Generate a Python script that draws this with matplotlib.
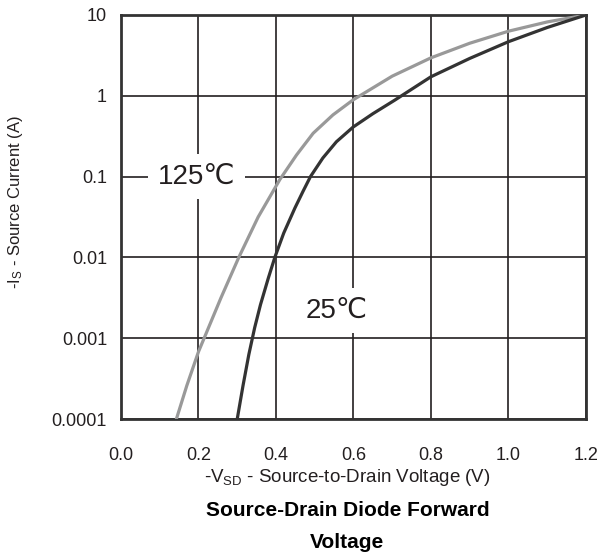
import matplotlib
matplotlib.use("Agg")
import matplotlib.pyplot as plt
from matplotlib.ticker import FixedLocator, FixedFormatter, NullLocator

plt.rcParams["font.family"] = ["Liberation Sans", "DejaVu Sans"]
plt.rcParams["mathtext.fontset"] = "custom"
plt.rcParams["mathtext.rm"] = "Liberation Sans"
plt.rcParams["mathtext.default"] = "regular"

# 125 C curve (gray)
v_125 = [0.143, 0.17, 0.2, 0.258, 0.304, 0.354, 0.41, 0.453, 0.496, 0.547,
         0.599, 0.7, 0.8, 0.9, 1.0, 1.1, 1.2]
i_125 = [1e-4, 2.6e-4, 6.8e-4, 3.16e-3, 0.01, 0.0316, 0.092, 0.185, 0.344,
         0.58, 0.89, 1.75, 2.95, 4.47, 6.3, 8.2, 10]

# 25 C curve (dark)
v_25 = [0.30, 0.315, 0.33, 0.345, 0.36, 0.38, 0.397, 0.42, 0.449, 0.47,
        0.489, 0.521, 0.556, 0.599, 0.65, 0.706, 0.8, 0.9, 1.0, 1.1, 1.2]
i_25 = [1e-4, 2.6e-4, 6.3e-4, 1.35e-3, 2.6e-3, 5.5e-3, 0.01, 0.02, 0.041,
        0.066, 0.1, 0.17, 0.27, 0.41, 0.6, 0.88, 1.72, 2.9, 4.67, 7.0, 10]

x_ticks = [0.0, 0.2, 0.4, 0.6, 0.8, 1.0, 1.2]
x_labels = ["0.0", "0.2", "0.4", "0.6", "0.8", "1.0", "1.2"]
y_ticks = [1e-4, 1e-3, 1e-2, 1e-1, 1, 10]
y_labels = ["0.0001", "0.001", "0.01", "0.1", "1", "10"]

fig = plt.figure(figsize=(6.01, 5.59), dpi=100)
ax = fig.add_axes([0.2013, 0.2504, 0.7737, 0.7228])

ax.set_yscale("log")
ax.set_xlim(0, 1.2)
ax.set_ylim(1e-4, 10)

ax.xaxis.set_major_locator(FixedLocator(x_ticks))
ax.xaxis.set_major_formatter(FixedFormatter(x_labels))
ax.yaxis.set_major_locator(FixedLocator(y_ticks))
ax.yaxis.set_major_formatter(FixedFormatter(y_labels))
ax.yaxis.set_minor_locator(NullLocator())
ax.tick_params(axis="both", length=0, labelsize=13, colors="#231f20")
ax.tick_params(axis="x", pad=20)
ax.tick_params(axis="y", pad=10)

ax.grid(True, color="#231f20", linewidth=1.2, zorder=1)
ax.set_axisbelow(True)
for s in ax.spines.values():
    s.set_color("#333333")
    s.set_linewidth(2)

ax.plot(v_125, i_125, color="#999999", linewidth=2.3, zorder=4,
        solid_joinstyle="round")
ax.plot(v_25, i_25, color="#333333", linewidth=2.3, zorder=4,
        solid_joinstyle="round")

ax.text(0.196, 0.1, "125\u2103", fontsize=20,
        ha="center", va="center", color="#231f20", zorder=3,
        bbox=dict(facecolor="white", edgecolor="none", pad=7))
ax.text(0.557, 0.0022, "25\u2103", fontsize=20,
        ha="center", va="center", color="#231f20", zorder=3,
        bbox=dict(facecolor="white", edgecolor="none", pad=7))

fig.text(0.578, 1 - 478 / 559, "-V$_{SD}$ - Source-to-Drain Voltage (V)",
         fontsize=13.5, ha="center", va="center", color="#231f20")
fig.text(0.026, 1 - 202 / 559, "-I$_{S}$ - Source Current (A)",
         fontsize=12, rotation=90, ha="center", va="center", color="#231f20")
fig.text(0.578, 1 - 510 / 559, "Source-Drain Diode Forward",
         fontsize=15, fontweight="bold", ha="center", va="center")
fig.text(0.578, 1 - 542 / 559, "Voltage",
         fontsize=15, fontweight="bold", ha="center", va="center")

fig.savefig("out.png", dpi=100)
